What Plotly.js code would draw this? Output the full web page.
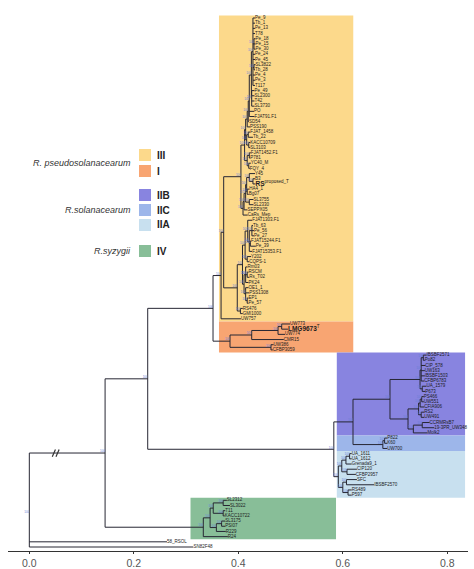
<!DOCTYPE html>
<html><head><meta charset="utf-8">
<script src="https://cdn.plot.ly/plotly-3.0.1.min.js"></script>
<style>html,body{margin:0;padding:0;background:#fff}</style>
</head><body><div id="chart" style="width:474px;height:569px"></div>
<script>
// ---------------- DATA ----------------
// Newick-like clades; the number after ':' is the node's distance from the root (x value)
const cladeIIIa = "(Pe_9:0.432,Tb_1:0.432,Pe_13:0.432,T78:0.432,(Pe_18:0.433,Pe_15:0.433,Pe_30:0.433):0.430,Pe_24:0.432,Pe_45:0.432,(SL3822:0.433,Tb_28:0.432):0.430,Pe_4:0.432,Pe_3:0.432,T117:0.432):0.428";
const cladeIIIb = "(Pe_49:0.431,SL2300:0.431,T42:0.431,SL3730:0.431):0.4256";
const cladeIIIc = "((FJAT_1458:0.423,Tb_22:0.428):0.419,(KACC10709:0.423,SL3103:0.423):0.420):0.416";
const cladeIIId = "((FJAT1452.F1:0.424,P781:0.423):0.421,(YC40_M:0.424,FQY_4:0.422):0.420):0.417";
const cladeIIIe = "(((((Y45:0.432,(B3:0.432,RS:0.433):0.428):0.421,(HA4_1:0.421,Bg07:0.420):0.417):0.416,(SL3755:0.429,SL2330:0.429):0.421):0.414,SEPPX05:0.4175):0.411,CaRs_Mep:0.418):0.409";
const cladeIIIf = "(FJAT1303.F1:0.4265,((Tb_63:0.428,Pe_56:0.430,Pe_27:0.430):0.426,(FJAT15244.F1:0.4245,Pe_39:0.4335):0.423,FJAT15353.F1:0.4265):0.421):0.418";
const cladeIIIg = "(Y202:0.4245,CQPS-1:0.421):0.417";
const cladeIIIh = "(Rm03:0.4175,(RSCM:0.4195,Rs_T02:0.421):0.417,PK24:0.4195):0.414";
const cladeIIIi = "(OE1_1:0.4195,PSS1308:0.421,(EP1:0.4195,Pe_57:0.4195):0.417):0.414";
const cladeI = "((((UW773:0.499,LMG9673:0.495):0.483,UW774:0.4894):0.476,CMR15:0.487):0.4256,(UW386:0.4675,CFBP3059:0.466):0.4625):0.3841";
const cladeIIB1 = "(((IBSBF2571:0.760,Po82:0.757):0.754,CIP_578:0.758,UW163:0.757,IBSBF1503:0.757,CFBP6783:0.756):0.750,(UA_1579:0.760,P673:0.758):0.752):0.7478";
const cladeIIB2 = "((((PS466:0.755,UW551:0.755):0.751,CFIA906:0.756):0.748,(RS2:0.756,UW491:0.756):0.750):0.745,((CCRMRsB7:0.766,19-3PR_UW348:0.775):0.752,Molk2:0.762):0.735):0.7248";
const cladeIIC = "((P822:0.685,K60:0.685):0.680,UW700:0.685):0.6766";
const cladeIIA = "((((UA_1611:0.617,UA_1612:0.617):0.613,Grenada9_1:0.617):0.606,(CIP120:0.627,CFBP2957:0.625):0.608):0.598,((SFC:0.627,IBSBF2570:0.660):0.607,(RS489:0.617,P597:0.617):0.610):0.600):0.5914";
const cladeIVa = "((SL2312:0.378,SL3022:0.384):0.371,(T11:0.375,KACC10722:0.374):0.371):0.352";
const cladeIVb = "((SL3175:0.375,PSI07:0.375):0.368,R229:0.376):0.358";
const outgroups = ["58_RSOL:0.2635", "SN82F48:0.314"];
const backboneDepths = {IIIroot:0.367, IIIa:0.372, IIIup:0.405, IIIlow:0.398, pseudo:0.3516, IIB:0.6903, IIBC:0.6195,
  solan:0.5828, A:0.2266, IVup:0.346, IVroot:0.333, IVtip:0.380, ingroup:0.145};

const xTickVals = [0, 0.2, 0.4, 0.6, 0.8];
const xTickText = ['0.0', '0.2', '0.4', '0.6', '0.8'];
const phylotypes = ['III', 'I', 'IIB', 'IIC', 'IIA', 'IV'];
const phyColors = ['#FCD98B', '#F8A572', '#8884E0', '#9DB6EA', '#C8E0EF', '#88BE98'];
const phyFirstTip = ['Pe_9', 'UW773', 'IBSBF2571', 'P822', 'UA_1611', 'SL2312'];
const phyLastTip = ['UW757', 'CFBP3059', 'Molk2', 'UW700', 'P597', 'R24'];
const boxLeft = [0.363, 0.363, 0.5885, 0.5885, 0.5885, 0.3085];
const boxRight = [0.620, 0.620, 0.834, 0.834, 0.834, 0.587];
const speciesNames = ['R. pseudosolanacearum', 'R.solanacearum', 'R.syzygii'];
const boldTips = {'RS': 'proposed_T', 'LMG9673': 'T'};
const supportValue = '100';

// ---------------- BUILD TREE ----------------
const d = backboneDepths;
const U2 = `(((((${'(' + cladeIIIa + ',' + cladeIIIb + '):0.425'},PO:0.430,FJAT91.F1:0.431):0.421,SD54:0.4205):0.419,PSS190:0.4225):0.417,${cladeIIIc}):0.414,${cladeIIId}):0.412`;
const B1 = `(${U2},${cladeIIIe}):${d.IIIup}`;
const LL = `(((${cladeIIIf},${cladeIIIg}):0.413,(${cladeIIIh},${cladeIIIi}):0.411):0.408,(RS476:0.4085,GMI1000:0.4085):0.404):${d.IIIlow}`;
const III = `((${B1},${LL}):${d.IIIa},UW757:0.405):${d.IIIroot}`;
const pseudo = `(${III},${cladeI}):${d.pseudo}`;
const solan = `(((${cladeIIB1},${cladeIIB2}):${d.IIB},${cladeIIC}):${d.IIBC},${cladeIIA}):${d.solan}`;
const nodeA = `(${pseudo},${solan}):${d.A}`;
const IV = `((${cladeIVa},${cladeIVb}):${d.IVup},R24:${d.IVtip}):${d.IVroot}`;
const full = `((${nodeA},${IV}):${d.ingroup},${outgroups.join(',')}):0`;

function parseNewick(s) {
  let i = 0;
  function node() {
    const n = {children: []};
    if (s[i] === '(') {
      i++;
      n.children.push(node());
      while (s[i] === ',') { i++; n.children.push(node()); }
      i++;
    } else {
      let name = '';
      while (i < s.length && !':,()'.includes(s[i])) name += s[i++];
      n.name = name;
    }
    if (s[i] === ':') {
      i++; let num = '';
      while (i < s.length && !',()'.includes(s[i])) num += s[i++];
      n.x = parseFloat(num);
    }
    return n;
  }
  return node();
}
const root = parseNewick(full);
const tips = [], internals = [];
let tipCounter = 0;
function layoutTree(n) {
  if (!n.children.length) { n.y = tipCounter++; tips.push(n); }
  else {
    n.children.forEach(layoutTree);
    n.y = n.children.reduce((a, c) => a + c.y, 0) / n.children.length;
    internals.push(n);
  }
}
layoutTree(root);

const lx = [], ly = [];
internals.forEach(n => {
  const ys = n.children.map(c => c.y);
  lx.push(n.x, n.x, null); ly.push(Math.min(...ys), Math.max(...ys), null);
  n.children.forEach(c => { lx.push(n.x, c.x, null); ly.push(c.y, c.y, null); });
});

const tipText = tips.map(t => boldTips[t.name] !== undefined ? `<b>${t.name}</b><sup>${boldTips[t.name]}</sup>` : t.name);
const tipSize = tips.map(t => boldTips[t.name] !== undefined ? 6.5 : 4.5);
const tipIndex = {}; tips.forEach(t => tipIndex[t.name] = t.y);

const FONT = 'Liberation Sans, Arial, sans-serif';
const traces = [
  {type: 'scatter', mode: 'lines', x: lx, y: ly, line: {color: '#262633', width: 1}, hoverinfo: 'skip', showlegend: false},
  {type: 'scatter', mode: 'text', x: tips.map(t => t.x), y: tips.map(t => t.y), text: tipText,
   textposition: 'middle right', textfont: {size: tipSize, color: '#1c1c1c', family: FONT}, hoverinfo: 'skip', showlegend: false, cliponaxis: false},
  {type: 'scatter', mode: 'text', x: internals.map(n => n.x), y: internals.map(n => n.y), text: internals.map(() => supportValue),
   textposition: 'top left', textfont: {size: 3, color: '#6a7fd6', family: FONT}, hoverinfo: 'skip', showlegend: false, cliponaxis: false}
];

// ---------------- LAYOUT ----------------
const W = 474, H = 569, ML = 8, MR = 6, MT = 10, MB = 18;
const pw = W - ML - MR, ph = H - MT - MB;
const px2x = p => (p - ML) / pw;
const px2y = p => 1 - (p - MT) / ph;

const shapes = [];
phylotypes.forEach((p, k) => {
  shapes.push({type: 'rect', xref: 'x', yref: 'y', x0: boxLeft[k], x1: boxRight[k],
    y0: tipIndex[phyFirstTip[k]] - 0.5, y1: tipIndex[phyLastTip[k]] + 0.5,
    fillcolor: phyColors[k], line: {width: 0}, layer: 'below'});
});
// axis break "//" on the long branch to the ingroup
const ingroupNode = root.children[0];
[0.047, 0.054].forEach(bx => shapes.push({type: 'line', xref: 'x', yref: 'y', x0: bx - 0.003, x1: bx + 0.003,
  y0: ingroupNode.y + 0.7, y1: ingroupNode.y - 0.7, line: {color: '#333', width: 1.2}}));

// legend
const legendTop = [149, 165, 189, 204, 219, 245];
const annotations = [];
phylotypes.forEach((p, k) => {
  shapes.push({type: 'rect', xref: 'paper', yref: 'paper', x0: px2x(139), x1: px2x(151),
    y0: px2y(legendTop[k]), y1: px2y(legendTop[k] + 12), fillcolor: phyColors[k], line: {width: 0}});
  annotations.push({xref: 'paper', yref: 'paper', x: px2x(155), y: px2y(legendTop[k] + 6), xanchor: 'left', yanchor: 'middle',
    text: `<b>${p}</b>`, showarrow: false, font: {size: 10, color: '#222', family: FONT}});
});
const speciesY = [163, 210, 251];
speciesNames.forEach((s, k) => annotations.push({xref: 'paper', yref: 'paper', x: px2x(133), y: px2y(speciesY[k]),
  xanchor: 'right', yanchor: 'middle', text: `<i>${s}</i>`, showarrow: false, font: {size: 9, color: '#333', family: FONT}}));

const layout = {
  width: W, height: H, margin: {l: ML, r: MR, t: MT, b: MB},
  paper_bgcolor: '#fff', plot_bgcolor: '#fff', showlegend: false,
  xaxis: {range: [-0.0408, 0.8396], showgrid: false, zeroline: false, showline: true, linecolor: '#333', linewidth: 1.3,
    ticks: 'outside', ticklen: 2, tickcolor: '#333', tickvals: xTickVals, ticktext: xTickText,
    tickfont: {size: 10.5, color: '#555', family: FONT}, fixedrange: true},
  yaxis: {range: [102.77, -1.54], visible: false, showgrid: false, zeroline: false, fixedrange: true},
  shapes: shapes, annotations: annotations
};
Plotly.newPlot('chart', traces, layout, {staticPlot: true, displayModeBar: false});
</script></body></html>
